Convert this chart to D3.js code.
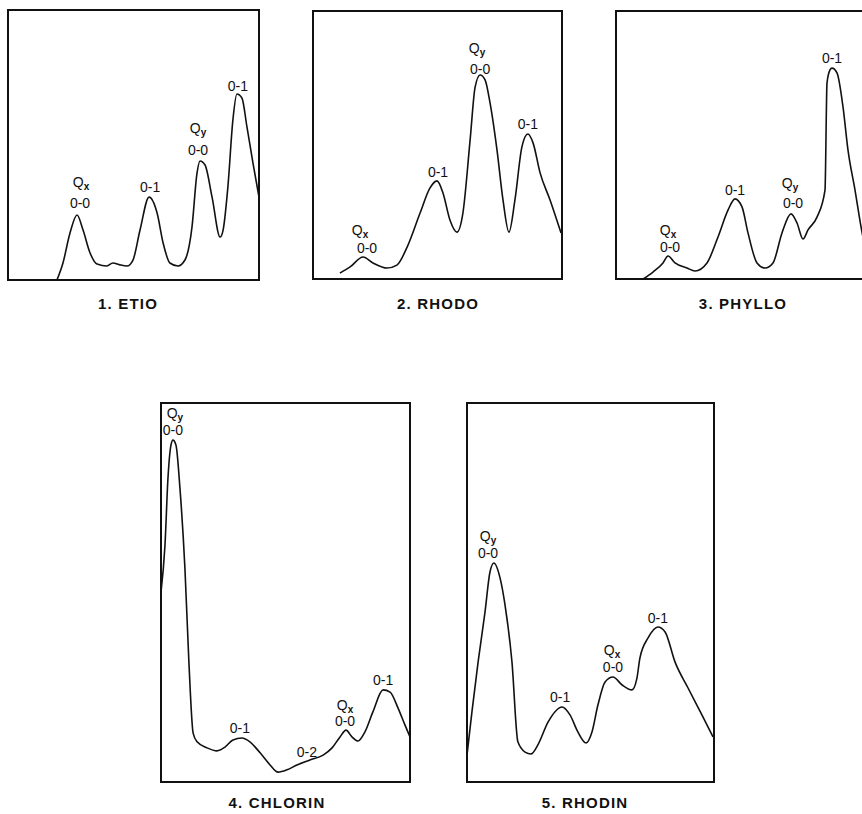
<!DOCTYPE html>
<html>
<head>
<meta charset="utf-8">
<script src="https://cdn.jsdelivr.net/npm/d3@7"></script>
<style>
  body { margin: 0; background: #fff; }
  svg { display: block; }
  text { font-family: "Liberation Sans", Arial, sans-serif; fill: #111; }
</style>
</head>
<body>
<div id="chart"></div>
<script>
// spectra: x = position across the panel (0-100), y = relative absorbance (0-100)
const etioX = [19.5, 21.9, 24.7, 27.5, 29.9, 32.7, 35.5, 39.4, 41.8, 44.6, 47.4, 49.8, 52.6, 56.2, 59.4, 61.8, 64.5, 67.7, 70.5, 73.3, 75.3, 76.5, 78.5, 81.3, 84.5, 85.7, 87.6, 89.6, 91.2, 93.2, 95.2, 97.6, 100];
const etioY = [0, 6.3, 17.4, 24.1, 18.5, 10.0, 5.9, 5.2, 6.3, 5.6, 5.2, 7.4, 18.5, 30.7, 24.8, 13.7, 6.3, 5.2, 7.4, 19.6, 39.6, 44.1, 42.6, 30.7, 15.9, 18.5, 34.4, 59.3, 68.9, 67.4, 56.7, 43.3, 30.7];

const rhodoX = [10.8, 14.9, 20.1, 24.1, 29.7, 33.7, 37.8, 43.0, 47.0, 49.8, 52.2, 55.0, 57.8, 60.2, 63.1, 65.1, 67.1, 69.1, 71.1, 73.9, 76.3, 78.7, 81.1, 83.9, 86.3, 88.4, 91.2, 95.2, 99.6];
const rhodoY = [2.2, 4.5, 8.2, 6.0, 4.1, 5.2, 11.9, 24.6, 34.0, 36.6, 32.1, 22.0, 17.5, 24.6, 51.9, 71.6, 76.1, 74.3, 65.7, 48.1, 29.5, 17.5, 29.5, 49.3, 54.1, 50.7, 39.6, 29.5, 17.2];

const phylloX = [10.8, 14.8, 18.8, 20.8, 23.6, 28.4, 31.6, 36.4, 40.8, 44.8, 47.6, 50.4, 52.8, 56.4, 59.6, 62.8, 66.4, 70.0, 72.4, 74.8, 76.8, 80.4, 83.6, 84.4, 85.6, 86.4, 88.4, 90.8, 92.8, 95.6, 98.4, 100];
const phylloY = [0, 2.6, 6.0, 8.6, 6.0, 4.1, 3.0, 6.0, 15.7, 25.7, 29.9, 26.9, 17.2, 6.0, 4.1, 6.0, 17.2, 24.3, 20.9, 14.9, 18.3, 23.1, 33.2, 73.1, 78.0, 78.7, 76.9, 64.2, 48.1, 33.2, 17.5, 10.5];

const chlorinX = [0, 1.6, 2.8, 4.0, 4.8, 6.0, 7.6, 9.6, 11.2, 12.9, 14.5, 18.5, 22.5, 25.7, 28.9, 32.5, 35.7, 39.8, 43.8, 47.0, 50.6, 54.6, 59.8, 65.1, 68.7, 71.9, 74.3, 76.7, 79.1, 81.9, 85.1, 89.2, 92.0, 95.2, 98.0, 100];
const chlorinY = [50.1, 62.5, 80.2, 88.9, 90.2, 88.9, 77.6, 56.5, 31.7, 12.9, 10.6, 9.0, 8.2, 9.2, 11.1, 11.6, 10.6, 7.7, 4.5, 2.6, 3.2, 4.5, 5.8, 7.1, 9.0, 11.9, 13.7, 11.9, 10.8, 13.2, 18.5, 24.3, 23.7, 19.5, 15.0, 11.9];

const rhodinX = [0, 2.0, 4.5, 7.3, 9.3, 10.9, 13.4, 15.4, 18.2, 20.6, 23.5, 25.9, 28.7, 32.8, 38.5, 41.7, 44.9, 48.2, 50.6, 53.0, 55.9, 59.1, 62.8, 66.8, 68.8, 70.0, 73.3, 77.3, 80.2, 84.2, 89.5, 95.1, 99.6];
const rhodinY = [7.1, 18.5, 31.7, 44.9, 55.4, 57.8, 53.8, 46.7, 31.7, 10.6, 7.9, 7.4, 9.8, 15.8, 19.8, 17.7, 13.2, 10.3, 13.2, 20.3, 26.4, 27.7, 25.6, 24.3, 27.4, 32.7, 38.0, 40.9, 39.6, 31.7, 24.8, 17.7, 11.9];

// band labels: [text, subscript, x, y]
const etioLabels = [["Q", "x", 29.1, 36.3], ["0-0", "", 28.7, 28.5], ["0-1", "", 56.6, 34.4], ["Q", "y", 75.7, 56.3], ["0-0", "", 75.7, 48.1], ["0-1", "", 91.6, 71.9]];
const rhodoLabels = [["Q", "x", 18.9, 18.3], ["0-0", "", 21.7, 11.6], ["0-1", "", 50.2, 39.9], ["Q", "y", 65.9, 86.0], ["0-0", "", 67.1, 78.5], ["0-1", "", 86.3, 57.8]];
const phylloLabels = [["Q", "x", 20.8, 18.3], ["0-0", "", 21.6, 11.9], ["0-1", "", 47.6, 33.2], ["Q", "y", 69.6, 35.8], ["0-0", "", 70.8, 28.4], ["0-1", "", 86.4, 82.5]];
const chlorinLabels = [["Q", "y", 5.6, 97.4], ["0-0", "", 4.8, 92.9], ["0-1", "", 31.7, 14.2], ["0-2", "", 58.6, 7.9], ["Q", "x", 73.9, 20.4], ["0-0", "", 73.9, 16.1], ["0-1", "", 89.2, 26.9]];
const rhodinLabels = [["Q", "y", 8.5, 64.9], ["0-0", "", 8.5, 60.4], ["0-1", "", 37.7, 22.4], ["Q", "x", 58.7, 34.8], ["0-0", "", 59.1, 30.3], ["0-1", "", 77.3, 43.3]];

const panelNames = ["1. ETIO", "2. RHODO", "3. PHYLLO", "4. CHLORIN", "5. RHODIN"];

// panel boxes in pixels
const boxes = [
    {x: 8, y: 10, w: 251, h: 270, tx: 128, ty: 309},
    {x: 313, y: 11, w: 249, h: 268, tx: 438, ty: 309},
    {x: 616, y: 11, w: 250, h: 268, tx: 743, ty: 309},
    {x: 161, y: 403, w: 249, h: 379, tx: 277, ty: 808},
    {x: 467, y: 403, w: 247, h: 379, tx: 585, ty: 808}
];

const spectra = [
    {xs: etioX, ys: etioY, labels: etioLabels},
    {xs: rhodoX, ys: rhodoY, labels: rhodoLabels},
    {xs: phylloX, ys: phylloY, labels: phylloLabels},
    {xs: chlorinX, ys: chlorinY, labels: chlorinLabels},
    {xs: rhodinX, ys: rhodinY, labels: rhodinLabels}
];

const width = 862, height = 814;
const svg = d3.select("#chart").append("svg").attr("width", width).attr("height", height);

spectra.forEach((s, i) => {
    const b = boxes[i];
    const x = d3.scaleLinear().domain([0, 100]).range([b.x, b.x + b.w]);
    const y = d3.scaleLinear().domain([0, 100]).range([b.y + b.h, b.y]);
    const g = svg.append("g");

    //frame
    g.append("rect").attr("x", b.x).attr("y", b.y).attr("width", b.w).attr("height", b.h)
        .attr("fill", "none").attr("stroke", "#111").attr("stroke-width", 2);

    //spectrum
    const pts = s.xs.map((v, k) => [v, s.ys[k]]);
    const line = d3.line().x(d => x(d[0])).y(d => y(d[1])).curve(d3.curveMonotoneX);
    g.append("path").datum(pts).attr("d", line)
        .attr("fill", "none").attr("stroke", "#111").attr("stroke-width", 1.6);

    //band labels
    s.labels.forEach(l => {
        const t = g.append("text").attr("x", x(l[2])).attr("y", y(l[3])).attr("dy", "0.35em")
            .attr("text-anchor", "middle").style("font-size", "14px");
        t.append("tspan").text(l[0]);
        if (l[1]) t.append("tspan").attr("dy", "3").style("font-size", "10px").style("font-weight", "bold").text(l[1]);
    });

    //title
    svg.append("text").attr("x", b.tx).attr("y", b.ty).attr("text-anchor", "middle")
        .style("font-size", "15px").style("font-weight", "bold").style("letter-spacing", "1.2px")
        .text(panelNames[i]);
});
</script>
</body>
</html>
